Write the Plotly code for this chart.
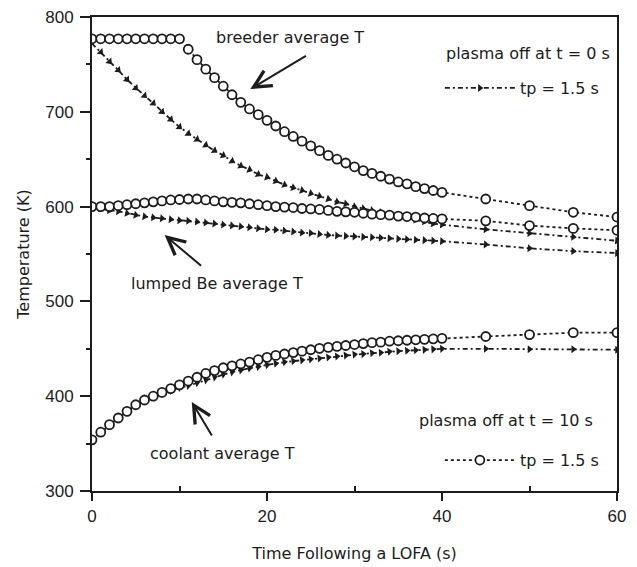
import plotly.graph_objects as go

time_s = [0, 1, 2, 3, 4, 5, 6, 7, 8, 9, 10, 11, 12, 13, 14, 15, 16, 17, 18, 19, 20,
          21, 22, 23, 24, 25, 26, 27, 28, 29, 30, 31, 32, 33, 34, 35, 36, 37, 38, 39, 40,
          45, 50, 55, 60]

# plasma off at t = 10 s (open circles)
breeder_off10 = [777, 777, 777, 777, 777, 777, 777, 777, 777, 777, 777,
                 766, 755, 745, 736, 727, 718, 710, 703, 697, 691,
                 685, 679, 674, 669, 664, 659, 654, 650, 646, 642,
                 638, 635, 632, 629, 626, 624, 621, 619, 617, 615,
                 608, 601, 594, 589]
be_off10 = [600, 600, 600, 601, 602, 603, 604, 605, 606, 607, 607.5,
            608, 608, 607, 606, 605, 604.5, 604, 603, 602, 601,
            600, 599.5, 599, 598, 597.5, 597, 596, 595, 594.5, 594,
            593, 592, 591.5, 591, 590, 589.5, 589, 588, 587.5, 587,
            585, 580, 577, 575]
coolant_off10 = [354, 362, 370, 377, 384, 391, 396, 400, 404, 408, 412,
                 416, 420, 424, 427, 430, 432, 434, 436, 438.5, 441,
                 443, 444.5, 446, 447.5, 449, 450.5, 451.5, 452.5, 453.5, 454.5,
                 455.5, 456.5, 457, 458, 458.5, 459, 459.5, 460, 460.5, 461,
                 463, 465, 467, 467]

# plasma off at t = 0 s (filled triangles)
breeder_off0 = [772, 763, 753, 744, 734, 725, 717, 709, 700, 692, 684,
                677, 671, 665, 659, 654, 648, 643, 639, 634, 631,
                627, 623, 620, 617, 614, 611, 608, 605, 603, 600,
                598, 596, 594, 592, 590, 588, 586, 584, 582, 581,
                576, 572, 568, 564]
be_off0 = [600, 598, 596, 595, 593, 591, 589.5, 588.5, 587.5, 586.5, 585.5,
           585, 584, 583, 582, 581, 580, 579, 578, 577, 576,
           575.5, 574.5, 573.5, 572.5, 572, 571, 570, 569.5, 569, 568.5,
           568, 567.5, 567, 566.5, 566, 565.5, 565, 564.5, 564, 563.5,
           560, 556, 553, 551]
coolant_off0 = [354, 362, 370, 377, 384, 390, 395, 399, 403, 406, 409,
                411, 414, 417, 420, 423, 425.5, 427.5, 429.5, 431, 433,
                434.5, 436, 437, 438, 439, 440, 441, 442, 443, 444,
                444.5, 445.5, 446, 447, 447.5, 448, 448.5, 449, 449.5, 450,
                450, 449.5, 449.5, 449]

x_ticks = [0, 20, 40, 60]
y_ticks = [300, 400, 500, 600, 700, 800]

INK = "#1c1c1c"
TICK_FONT = "Liberation Sans, Arial, sans-serif"
FONT = "DejaVu Sans, Liberation Sans, sans-serif"
FS = 16

fig = go.Figure()

tri_series = [breeder_off0, be_off0, coolant_off0]
for i, ys in enumerate(tri_series):
    fig.add_trace(go.Scatter(
        x=time_s, y=ys, mode="lines+markers",
        line=dict(color=INK, width=1.8, dash="5px,3px,2px,3px"),
        marker=dict(symbol="triangle-up", size=7, color=INK, angleref="previous"),
        name="tp = 1.5 s", legend="legend", showlegend=(i == 0),
    ))

circ_series = [breeder_off10, be_off10, coolant_off10]
for i, ys in enumerate(circ_series):
    fig.add_trace(go.Scatter(
        x=time_s, y=ys, mode="lines+markers",
        line=dict(color=INK, width=1.8, dash="3px,3px"),
        marker=dict(symbol="circle", size=9, color="white",
                    line=dict(color=INK, width=1.8)),
        name="tp = 1.5 s", legend="legend2", showlegend=(i == 0),
    ))

# labels and arrows
labels = [
    dict(text="breeder average T", x=22.6, y=778),
    dict(text="lumped Be average T", x=14.3, y=519),
    dict(text="coolant average T", x=14.9, y=340),
]
for lb in labels:
    fig.add_annotation(x=lb["x"], y=lb["y"], text=lb["text"], showarrow=False,
                       font=dict(family=FONT, size=FS, color=INK))

arrows = [
    dict(x=18.1, y=724, ax=57, ay=-34),
    dict(x=8.3, y=570, ax=38, ay=32),
    dict(x=11.4, y=394, ax=21, ay=35),
]
for a in arrows:
    fig.add_annotation(x=a["x"], y=a["y"], ax=a["ax"], ay=a["ay"], text="",
                       showarrow=True, arrowhead=5, arrowsize=1.7, arrowwidth=2,
                       arrowcolor=INK)

# legend headings
headings = [
    dict(text="plasma off at t = 0 s", x=0.99, y=0.924),
    dict(text="plasma off at t = 10 s", x=0.958, y=0.148),
]
for h in headings:
    fig.add_annotation(xref="paper", yref="paper", x=h["x"], y=h["y"],
                       xanchor="right", yanchor="middle", text=h["text"],
                       showarrow=False, font=dict(family=FONT, size=FS, color=INK))

axis_common = dict(
    showline=True, linecolor=INK, linewidth=2, mirror=True,
    showgrid=False, zeroline=False, automargin=False,
    tickfont=dict(family=TICK_FONT, size=17, color=INK),
    title_font=dict(family=FONT, size=FS, color=INK),
    ticks="outside", tickcolor=INK, tickwidth=2,
)

fig.update_xaxes(range=[0, 60], tickvals=x_ticks, ticklen=8, ticklabelstandoff=1,
                 minor=dict(tickvals=[10, 30, 50], ticks="inside", ticklen=5,
                            tickcolor=INK, tickwidth=2),
                 title_text="Time Following a LOFA (s)", title_standoff=22,
                 **axis_common)
fig.update_yaxes(range=[300, 800], tickvals=y_ticks, ticklen=10, ticklabelstandoff=3,
                 minor=dict(tickvals=[350, 450, 550, 650, 750], ticks="outside",
                            ticklen=4, tickcolor=INK, tickwidth=2),
                 title_text="Temperature (K)", title_standoff=12,
                 **axis_common)

legend_common = dict(
    bgcolor="rgba(0,0,0,0)", font=dict(family=FONT, size=FS, color=INK),
    xanchor="right", yanchor="top", itemwidth=70,
)
fig.update_layout(
    width=637, height=567,
    margin=dict(l=92, r=20, t=17, b=76),
    paper_bgcolor="white", plot_bgcolor="white",
    legend=dict(x=0.975, y=0.886, **legend_common),
    legend2=dict(x=0.975, y=0.101, **legend_common),
)

fig.write_html("out.html", post_script="document.body.style.margin='0px';",
               config={"displayModeBar": False})
